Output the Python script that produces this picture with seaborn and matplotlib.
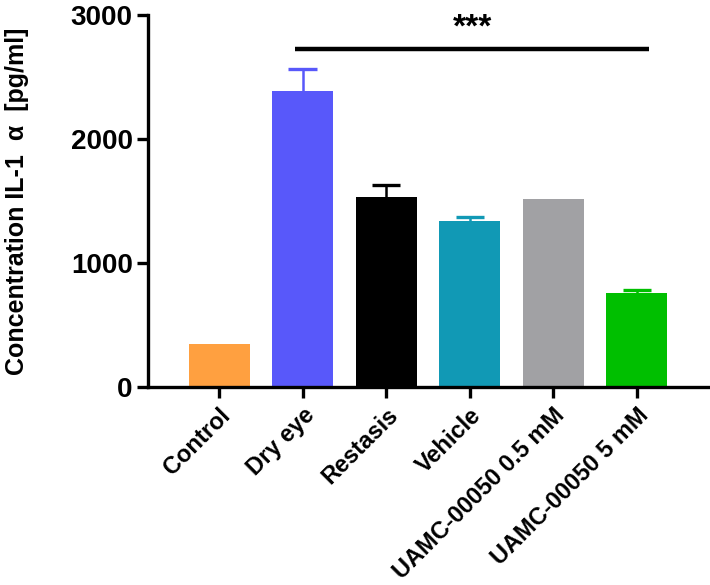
import numpy as np
import pandas as pd
import matplotlib
matplotlib.use("Agg")
import matplotlib.pyplot as plt
import seaborn as sns

### Data

groups = ["Control", "Dry eye", "Restasis", "Vehicle",
          "UAMC-00050 0.5 mM", "UAMC-00050 5 mM"]
means = [350, 2390, 1535, 1340, 1518, 755]
errors = [0, 178, 92, 33, 0, 27]
colors = ["#FFA040", "#5858FA", "#000000", "#1199B5", "#A1A1A4", "#00BF00"]

sig_from, sig_to = "Dry eye", "UAMC-00050 5 mM"
sig_y = 2726
sig_text = "***"

### Style

sns.set_style("ticks", {"axes.edgecolor": "black", "text.color": "black",
                        "axes.labelcolor": "black", "xtick.color": "black",
                        "ytick.color": "black"})
plt.rcParams["font.family"] = ["Liberation Sans", "DejaVu Sans"]
plt.rcParams["font.weight"] = "bold"

df = pd.DataFrame({"group": groups, "mean": means, "err": errors})

fig = plt.figure(figsize=(7.1, 5.85), dpi=100)
ax = fig.add_axes([0.2085, 0.3385, 0.7885, 0.6355])

sns.barplot(data=df, x="group", y="mean", hue="group", palette=colors,
            legend=False, width=0.73, saturation=1, linewidth=0, ax=ax)

# upward-only error bars (stem + top cap), same colour as the bar
cap = 0.17
for i, (m, e, c) in enumerate(zip(means, errors, colors)):
    if e > 0:
        ax.vlines(i, m - 10, m + e, color=c, lw=1.8, zorder=1)
        ax.hlines(m + e, i - cap, i + cap, color=c, lw=2.4, zorder=1)

# significance bar
i0, i1 = groups.index(sig_from) - 0.09, groups.index(sig_to) + 0.15
ax.plot([i0, i1], [sig_y, sig_y], color="black", lw=3.2, solid_capstyle="butt")
ax.text((i0 + i1) / 2, sig_y + 45, sig_text, ha="center", va="bottom",
        fontsize=24, fontweight="bold")

ax.set_xlim(-0.85, 5.85)
ax.set_ylim(0, 3000)
ax.set_yticks([0, 1000, 2000, 3000])

ax.set_xlabel("")
ax.set_ylabel("Concentration IL-1  α  [pg/ml]", fontsize=18, fontweight="bold",
              labelpad=30)

ax.tick_params(axis="y", labelsize=20, width=2.4, length=8, pad=3)
ax.tick_params(axis="x", labelsize=17, width=2.4, length=8, pad=4)
plt.setp(ax.get_xticklabels(), rotation=45, ha="right",
         rotation_mode="anchor", fontweight="bold")
plt.setp(ax.get_yticklabels(), fontweight="bold")

sns.despine(ax=ax)
for s in ["left", "bottom"]:
    ax.spines[s].set_linewidth(2.4)

fig.savefig("out.png", dpi=100)
